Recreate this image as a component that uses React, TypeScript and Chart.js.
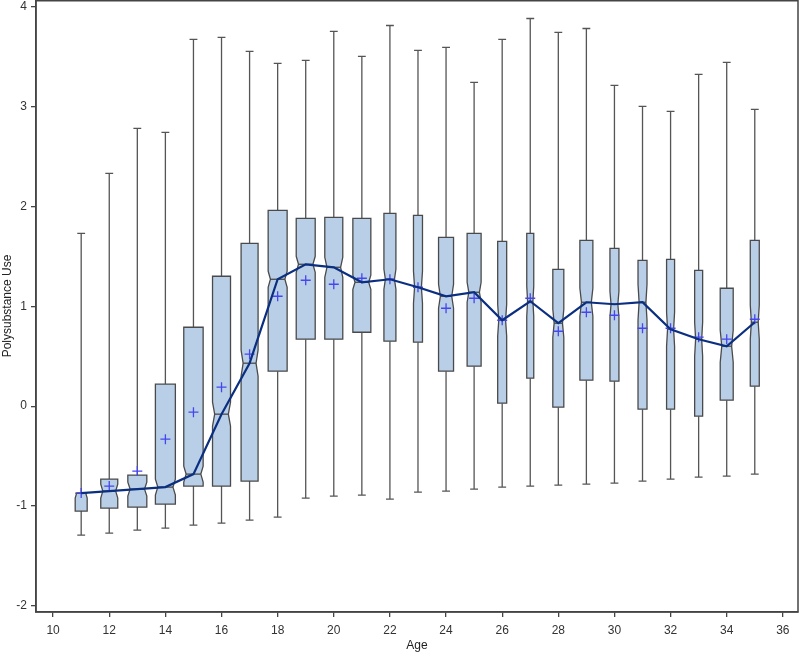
import React, { useEffect, useRef } from "react";
import { Chart, registerables } from "chart.js";

Chart.register(...registerables);

const ages = [11, 12, 13, 14, 15, 16, 17, 18, 19, 20, 21, 22, 23, 24, 25, 26, 27, 28, 29, 30, 31, 32, 33, 34, 35];
const whiskerMax = [1.73, 2.33, 2.78, 2.74, 3.67, 3.69, 3.55, 3.43, 3.46, 3.75, 3.5, 3.81, 3.56, 3.59, 3.24, 3.67, 3.88, 3.74, 3.78, 3.21, 3.0, 2.95, 3.32, 3.44, 2.97];
const q3 = [-0.87, -0.73, -0.69, 0.22, 0.79, 1.3, 1.63, 1.96, 1.88, 1.89, 1.88, 1.93, 1.91, 1.69, 1.73, 1.65, 1.73, 1.37, 1.66, 1.58, 1.46, 1.47, 1.36, 1.18, 1.66];
const medians = [-0.87, -0.85, -0.83, -0.81, -0.68, -0.08, 0.43, 1.27, 1.42, 1.39, 1.24, 1.27, 1.19, 1.1, 1.14, 0.86, 1.05, 0.83, 1.04, 1.02, 1.04, 0.77, 0.67, 0.6, 0.84];
const q1 = [-1.05, -1.02, -1.01, -0.98, -0.8, -0.8, -0.75, 0.35, 0.67, 0.67, 0.74, 0.65, 0.64, 0.35, 0.4, 0.03, 0.28, -0.01, 0.26, 0.25, -0.03, -0.03, -0.1, 0.06, 0.2];
const whiskerMin = [-1.29, -1.27, -1.24, -1.22, -1.19, -1.17, -1.14, -1.11, -0.92, -0.9, -0.89, -0.93, -0.86, -0.85, -0.83, -0.81, -0.8, -0.79, -0.78, -0.77, -0.75, -0.73, -0.71, -0.7, -0.68];
const means = [-0.87, -0.8, -0.65, -0.33, -0.06, 0.19, 0.52, 1.1, 1.26, 1.22, 1.28, 1.27, 1.19, 0.98, 1.08, 0.86, 1.08, 0.75, 0.94, 0.91, 0.78, 0.78, 0.69, 0.67, 0.87];
const notchHalf = [0.05, 0.07, 0.07, 0.08, 0.08, 0.12, 0.13, 0.08, 0.08, 0.1, 0.07, 0.1, 0.16, 0.12, 0.1, 0.16, 0.15, 0.14, 0.14, 0.13, 0.18, 0.17, 0.17, 0.16, 0.17];
const relSize = [0.6, 0.85, 0.95, 1, 0.97, 0.9, 0.85, 0.95, 0.95, 0.9, 0.9, 0.6, 0.45, 0.75, 0.7, 0.45, 0.35, 0.55, 0.65, 0.45, 0.45, 0.4, 0.4, 0.65, 0.45];
const xTicks = [10, 12, 14, 16, 18, 20, 22, 24, 26, 28, 30, 32, 34, 36];
const yTicks = [-2, -1, 0, 1, 2, 3, 4];

const FONT = "'Liberation Sans', Arial, sans-serif";

const zeroPad = (s: any) => {
  s.paddingLeft = 0;
  s.paddingRight = 0;
  s.paddingTop = 0;
  s.paddingBottom = 0;
  s.getPadding = () => ({ left: 0, top: 0, right: 0, bottom: 0 });
};

const boxPlugin = {
  id: "notchedBoxes",
  beforeDatasetsDraw(chart: any) {
    const ctx = chart.ctx;
    const xs = chart.scales.x;
    const ys = chart.scales.y;
    ctx.save();
    for (let i = 0; i < ages.length; i++) {
      const a = ages[i];
      const half = relSize[i] * 0.356;
      const L = xs.getPixelForValue(a - half);
      const R = xs.getPixelForValue(a + half);
      const C = xs.getPixelForValue(a);
      const capL = xs.getPixelForValue(a - 0.14);
      const capR = xs.getPixelForValue(a + 0.14);
      const yTop = ys.getPixelForValue(q3[i]);
      const yBot = ys.getPixelForValue(q1[i]);
      const yMed = ys.getPixelForValue(medians[i]);
      const nTopV = Math.min(medians[i] + notchHalf[i], q3[i]);
      const nBotV = Math.max(medians[i] - notchHalf[i], q1[i]);
      const yNT = ys.getPixelForValue(nTopV);
      const yNB = ys.getPixelForValue(nBotV);
      const inset = (R - L) * 0.12;
      const yMax = ys.getPixelForValue(whiskerMax[i]);
      const yMin = ys.getPixelForValue(whiskerMin[i]);

      ctx.strokeStyle = "#555";
      ctx.lineWidth = 1.3;
      ctx.beginPath();
      ctx.moveTo(C, yTop);
      ctx.lineTo(C, yMax);
      ctx.moveTo(capL, yMax);
      ctx.lineTo(capR, yMax);
      ctx.moveTo(C, yBot);
      ctx.lineTo(C, yMin);
      ctx.moveTo(capL, yMin);
      ctx.lineTo(capR, yMin);
      ctx.stroke();

      ctx.beginPath();
      ctx.moveTo(L, yTop);
      ctx.lineTo(R, yTop);
      ctx.lineTo(R, yNT);
      ctx.lineTo(R - inset, yMed);
      ctx.lineTo(R, yNB);
      ctx.lineTo(R, yBot);
      ctx.lineTo(L, yBot);
      ctx.lineTo(L, yNB);
      ctx.lineTo(L + inset, yMed);
      ctx.lineTo(L, yNT);
      ctx.closePath();
      ctx.fillStyle = "#b9cfe7";
      ctx.fill();
      ctx.strokeStyle = "#4a4a4a";
      ctx.lineWidth = 1.3;
      ctx.stroke();

      ctx.beginPath();
      ctx.moveTo(L + inset, yMed);
      ctx.lineTo(R - inset, yMed);
      ctx.stroke();
    }
    ctx.restore();
  },
  afterDraw(chart: any) {
    const { ctx, chartArea } = chart;
    ctx.save();
    ctx.strokeStyle = "#444";
    ctx.lineWidth = 1.5;
    ctx.strokeRect(chartArea.left, chartArea.top + 0.75, chartArea.right - chartArea.left, chartArea.bottom - chartArea.top - 0.75);
    ctx.restore();
  },
};

export default function App() {
  const ref = useRef<HTMLCanvasElement | null>(null);
  useEffect(() => {
    document.body.style.margin = "0";
    if (!ref.current) return;
    const chart = new Chart(ref.current, {
      type: "scatter",
      data: {
        datasets: [
          {
            type: "line",
            data: ages.map((a, i) => ({ x: a, y: medians[i] })),
            borderColor: "#0b2f80",
            borderWidth: 2.2,
            pointRadius: 0,
            tension: 0,
            fill: false,
          } as any,
          {
            type: "scatter",
            data: ages.map((a, i) => ({ x: a, y: means[i] })),
            pointStyle: "cross",
            pointRadius: 5,
            borderColor: "#4646ee",
            borderWidth: 1.3,
            backgroundColor: "#4646ee",
          },
        ],
      },
      plugins: [boxPlugin],
      options: {
        responsive: false,
        devicePixelRatio: 1,
        animation: false,
        layout: { autoPadding: false, padding: { left: 0, right: 2, top: 0, bottom: 0 } },
        plugins: { legend: { display: false }, tooltip: { enabled: false } },
        scales: {
          x: {
            type: "linear",
            min: 9.39,
            max: 36.54,
            afterBuildTicks: (s: any) => {
              s.ticks = xTicks.map((v) => ({ value: v }));
            },
            afterFit: (s: any) => {
              s.height = 42;
              zeroPad(s);
            },
            grid: { drawOnChartArea: false, drawTicks: true, tickLength: 5, color: "#444", lineWidth: 1.3 },
            border: { display: true, color: "#444", width: 1.5 },
            ticks: { font: { size: 12, family: FONT }, color: "#333", padding: 6, maxRotation: 0, autoSkip: false },
            title: { display: true, text: "Age", font: { size: 12, family: FONT }, color: "#222", padding: { top: 0, bottom: 1 } },
          },
          y: {
            type: "linear",
            min: -2.06,
            max: 4.065,
            afterBuildTicks: (s: any) => {
              s.ticks = yTicks.map((v) => ({ value: v }));
            },
            afterFit: (s: any) => {
              s.width = 36;
              zeroPad(s);
            },
            grid: { drawOnChartArea: false, drawTicks: true, tickLength: 5, color: "#444", lineWidth: 1.3 },
            border: { display: true, color: "#444", width: 1.5 },
            ticks: { font: { size: 12, family: FONT }, color: "#333", padding: 4, autoSkip: false },
            title: { display: true, text: "Polysubstance Use", font: { size: 12, family: FONT }, color: "#222", padding: { top: 0, bottom: 0 } },
          },
        },
      },
    });
    return () => chart.destroy();
  }, []);
  return (
    <div style={{ width: 800, height: 654 }}>
      <canvas ref={ref} width={800} height={654} style={{ display: "block" }} />
    </div>
  );
}
